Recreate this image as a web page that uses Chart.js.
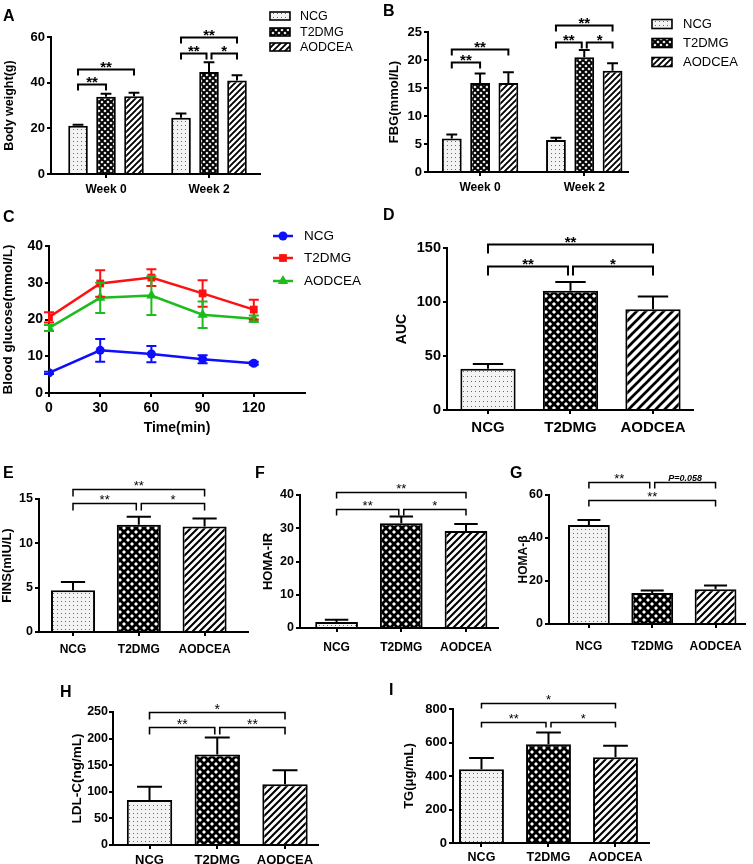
<!DOCTYPE html>
<html>
<head>
<meta charset="utf-8">
<title>Figure</title>
<script src="https://cdn.jsdelivr.net/npm/chart.js@4.4.1/dist/chart.umd.min.js"></script>
<style>
  html, body { margin:0; padding:0; background:#fff; }
  #fig { position:relative; width:753px; height:864px; overflow:hidden; background:#fff; }
  #fig canvas { position:absolute; }
</style>
</head>
<body>
<div id="fig">
  <canvas id="pA" width="370" height="200" style="left:0px;top:0px"></canvas>
  <canvas id="pB" width="383" height="200" style="left:370px;top:0px"></canvas>
  <canvas id="pC" width="370" height="250" style="left:0px;top:200px"></canvas>
  <canvas id="pD" width="383" height="255" style="left:370px;top:200px"></canvas>
  <canvas id="pE" width="250" height="200" style="left:0px;top:460px"></canvas>
  <canvas id="pF" width="250" height="200" style="left:250px;top:460px"></canvas>
  <canvas id="pG" width="253" height="200" style="left:500px;top:460px"></canvas>
  <canvas id="pH" width="376" height="204" style="left:0px;top:660px"></canvas>
  <canvas id="pI" width="377" height="204" style="left:376px;top:660px"></canvas>
</div>
<script>
// ================= DATA =================
const groupLabels = ['NCG', 'T2DMG', 'AODCEA'];
const weekLabels = ['Week 0', 'Week 2'];
const timeMin = [0, 30, 60, 90, 120];

// A: body weight (g)
const bwNCG = [21.1, 24.6],    bwNCGsd = [0.5, 1.9];
const bwT2DMG = [33.8, 44.7],  bwT2DMGsd = [1.4, 4.2];
const bwAODCEA = [34.1, 41.0], bwAODCEAsd = [1.5, 2.2];
const bwTicks = [0, 20, 40, 60];

// B: FBG (mmol/L)
const fbgNCG = [6.0, 5.7],     fbgNCGsd = [0.7, 0.4];
const fbgT2DMG = [15.9, 20.5], fbgT2DMGsd = [1.7, 1.3];
const fbgAODCEA = [15.9, 18.1],fbgAODCEAsd = [1.9, 1.3];
const fbgTicks = [0, 5, 10, 15, 20, 25];

// C: OGTT blood glucose (mmol/L)
const ogttNCG = [5.5, 11.6, 10.6, 9.2, 8.1],     ogttNCGsd = [0.3, 3.1, 2.2, 1.1, 0.4];
const ogttT2DMG = [20.6, 29.8, 31.4, 27.1, 22.7], ogttT2DMGsd = [1.4, 3.6, 2.3, 3.6, 2.7];
const ogttAODCEA = [17.7, 25.9, 26.5, 21.3, 20.2],ogttAODCEAsd = [0.8, 4.1, 5.3, 3.6, 0.9];
const ogttTicks = [0, 10, 20, 30, 40];

// D-I: single-value panels (NCG, T2DMG, AODCEA)
const aucMean = [38.2, 110.4, 93.4],  aucSd = [4.5, 8.1, 11.8];   const aucTicks = [0, 50, 100, 150];
const finsMean = [4.7, 12.1, 11.9],   finsSd = [0.95, 0.9, 0.9];  const finsTicks = [0, 5, 10, 15];
const homaIRMean = [1.8, 31.5, 29.2], homaIRSd = [0.7, 2.0, 2.1]; const homaIRTicks = [0, 10, 20, 30, 40];
const homaBMean = [46.1, 14.4, 16.2], homaBSd = [2.3, 1.2, 1.7];  const homaBTicks = [0, 20, 40, 60];
const ldlMean = [84.4, 170, 114.4],   ldlSd = [25, 32, 26];       const ldlTicks = [0, 50, 100, 150, 200, 250];
const tgMean = [440, 590, 512],       tgSd = [68, 70, 68];        const tgTicks = [0, 200, 400, 600, 800];

// significance brackets: [from, to, y-level, label]
const bwSig   = [[[0,0],[1,0],39.5,'**'], [[0,0],[2,0],46.0,'**'], [[0,1],[2,1],59.8,'**'], [[0,1],[1,1],53.0,'**'], [[1,1],[2,1],53.0,'*']];
const fbgSig  = [[[0,0],[1,0],19.6,'**'], [[0,0],[2,0],22.0,'**'], [[0,1],[2,1],26.2,'**'], [[0,1],[1,1],23.2,'**'], [[1,1],[2,1],23.2,'*']];
const aucSig  = [[0,2,153.7,'**'], [0,1,133.3,'**'], [1,2,133.3,'*']];
const finsSig = [[0,2,16.1,'**'], [0,1,14.5,'**'], [1,2,14.5,'*']];
const homaIRSig = [[0,2,40.8,'**'], [0,1,35.8,'**'], [1,2,35.8,'*']];
const homaBSig  = [[0,1,66.0,'**'], [1,2,66.0,'P=0.058'], [0,2,57.7,'**']];
const ldlSig  = [[0,2,250,'*'], [0,1,222,'**'], [1,2,222,'**']];
const tgSig   = [[0,2,835,'*'], [0,1,723,'**'], [1,2,723,'*']];

// ================= STYLE =================
const FONT = "'Liberation Sans', Arial, Helvetica, sans-serif";
Chart.defaults.font.family = FONT;
Chart.defaults.color = '#000';
Chart.defaults.animation = false;

function tile(w, h, paint) {
  const c = document.createElement('canvas'); c.width = w; c.height = h;
  const g = c.getContext('2d'); paint(g, w, h);
  return g.createPattern(c, 'repeat');
}
function dotsPat(dx, dy) {
  return tile(dx, dy, (g, w, h) => { g.fillStyle = '#f3f3f3'; g.fillRect(0, 0, w, h); g.fillStyle = '#6a6a6a'; g.fillRect(1, 1, 1, 1); });
}
function crossPat(p, r) {
  return tile(p, p, (g, w, h) => {
    g.fillStyle = '#000'; g.fillRect(0, 0, w, h); g.fillStyle = '#fff';
    [[w/2, h/2], [0, 0], [w, 0], [0, h], [w, h]].forEach(([cx, cy]) => {
      g.beginPath(); g.moveTo(cx, cy - r); g.lineTo(cx + r, cy); g.lineTo(cx, cy + r); g.lineTo(cx - r, cy); g.closePath(); g.fill();
    });
  });
}
function stripePat(p, lw) {
  return tile(p, p, (g, w, h) => {
    g.fillStyle = '#fff'; g.fillRect(0, 0, w, h); g.strokeStyle = '#000'; g.lineWidth = lw;
    g.beginPath();
    g.moveTo(-1, p + 1); g.lineTo(p + 1, -1);
    g.moveTo(-p/2, p/2); g.lineTo(p/2, -p/2);
    g.moveTo(p/2, 3*p/2); g.lineTo(3*p/2, p/2);
    g.stroke();
  });
}
const patSmall = [dotsPat(4, 4), crossPat(6, 1.6), stripePat(6, 1.9)];
const patMid   = [dotsPat(4, 4), crossPat(8, 2.0), stripePat(7, 2.1)];
const patBig   = [dotsPat(4, 5), crossPat(8, 2.1), stripePat(9, 2.7)];

const C_NCG = '#0d0dff', C_T2 = '#ff1010', C_AOD = '#1dbb1d';

function drawMarker(ctx, style, x, y, r, color) {
  ctx.fillStyle = color; ctx.beginPath();
  if (style === 'circle') { ctx.arc(x, y, r, 0, Math.PI * 2); }
  else if (style === 'rect') { const s = r * Math.SQRT1_2; ctx.rect(x - s, y - s, 2 * s, 2 * s); }
  else { ctx.moveTo(x, y - r); ctx.lineTo(x + r * 0.866, y + r * 0.5); ctx.lineTo(x - r * 0.866, y + r * 0.5); ctx.closePath(); }
  ctx.fill();
}

const decor = {
  id: 'decor',
  afterDatasetsDraw(chart, args, o) {
    const ctx = chart.ctx, ys = chart.scales.y;
    ctx.save();
    chart.data.datasets.forEach((ds, di) => {
      if (!ds.sd) return;
      const meta = chart.getDatasetMeta(di);
      meta.data.forEach((el, i) => {
        const v = meta.controller.getParsed(i).y, s = ds.sd[i];
        const yt = ys.getPixelForValue(v + s);
        ctx.strokeStyle = ds.errColor || '#000';
        ctx.lineWidth = o.errWidth || 2;
        ctx.beginPath();
        if (chart.config.type === 'bar') {
          const cw = el.width * (o.capRatio || 0.55);
          ctx.moveTo(el.x, el.y); ctx.lineTo(el.x, yt);
          ctx.moveTo(el.x - cw / 2, yt); ctx.lineTo(el.x + cw / 2, yt);
        } else {
          const yb = ys.getPixelForValue(v - s), cw = o.cap || 10;
          ctx.moveTo(el.x, yb); ctx.lineTo(el.x, yt);
          ctx.moveTo(el.x - cw / 2, yt); ctx.lineTo(el.x + cw / 2, yt);
          ctx.moveTo(el.x - cw / 2, yb); ctx.lineTo(el.x + cw / 2, yb);
        }
        ctx.stroke();
      });
    });
    ctx.restore();
  },
  afterDraw(chart, args, o) {
    const ctx = chart.ctx;
    ctx.save();
    ctx.fillStyle = '#000'; ctx.strokeStyle = '#000';
    if (o.letter) {
      ctx.font = 'bold 16px ' + FONT; ctx.textAlign = 'left'; ctx.textBaseline = 'alphabetic';
      ctx.fillText(o.letter[0], o.letter[1], o.letter[2]);
    }
    if (o.brackets) {
      const ys = chart.scales.y;
      const key = r => JSON.stringify(r);
      const bx = ref => { const r = Array.isArray(ref) ? ref : [0, ref]; return chart.getDatasetMeta(r[0]).data[r[1]].x; };
      const list = o.brackets;
      list.forEach(b => {
        const [from, to, lvl, text] = b;
        const g = o.gap || 2.5;
        let x1 = bx(from), x2 = bx(to);
        // split brackets that meet at a shared middle bar on the same level
        if (list.some(c => c !== b && c[2] === lvl && key(c[1]) === key(from))) x1 += g;
        if (list.some(c => c !== b && c[2] === lvl && key(c[0]) === key(to))) x2 -= g;
        const y = Math.round(ys.getPixelForValue(lvl)) + 0.5;
        const d = o.drop || 6;
        ctx.lineWidth = o.bracketWidth || 1.5;
        ctx.beginPath(); ctx.moveTo(x1, y + d); ctx.lineTo(x1, y); ctx.lineTo(x2, y); ctx.lineTo(x2, y + d); ctx.stroke();
        ctx.textAlign = 'center'; ctx.textBaseline = 'alphabetic';
        if (text.charAt(0) !== '*') {
          ctx.font = 'italic bold 9px ' + FONT;
          ctx.fillText(text, (x1 + x2) / 2, y - 2);
        } else {
          const fs = o.starSize || 13;
          ctx.font = (o.starWeight || 'bold') + ' ' + fs + 'px ' + FONT;
          ctx.fillText(text, (x1 + x2) / 2, y - (o.starGap || 6.5) + 0.57 * fs);
        }
      });
    }
    if (o.legend) {
      const L = o.legend;
      chart.data.datasets.forEach((ds, i) => {
        const cy = L.rows[i];
        if (L.kind === 'line') {
          ctx.strokeStyle = ds.borderColor; ctx.lineWidth = 2.5;
          ctx.beginPath(); ctx.moveTo(L.x1, cy); ctx.lineTo(L.x2, cy); ctx.stroke();
          drawMarker(ctx, ds.pointStyle, (L.x1 + L.x2) / 2, cy, ds.pointRadius, ds.borderColor);
        } else {
          ctx.fillStyle = ds.backgroundColor;
          ctx.fillRect(L.boxX, cy - L.boxH / 2, L.boxW, L.boxH);
          ctx.strokeStyle = '#000'; ctx.lineWidth = 1.6;
          ctx.strokeRect(L.boxX, cy - L.boxH / 2, L.boxW, L.boxH);
        }
        ctx.fillStyle = '#000'; ctx.font = L.size + 'px ' + FONT;
        ctx.textAlign = 'left'; ctx.textBaseline = 'middle';
        ctx.fillText(ds.label, L.textX, cy + 0.5);
      });
    }
    ctx.restore();
  }
};

const gridStyle = { drawOnChartArea: false, drawTicks: true, tickLength: 4, tickWidth: 2, tickColor: '#000', lineWidth: 2, color: '#000', offset: false };
const borderStyle = { display: true, color: '#000', width: 2 };

function yAxis(o) {
  return {
    type: 'linear', min: o.ticks[0], max: o.ticks[o.ticks.length - 1],
    afterFit: s => { s.width = o.width; },
    afterBuildTicks: s => { s.ticks = o.ticks.map(v => ({ value: v })); },
    ticks: { font: { size: o.tick, weight: 'bold' }, color: '#000', padding: o.tickPad ?? 2 },
    grid: gridStyle, border: borderStyle,
    title: { display: true, text: o.title, color: '#000', font: { size: o.titleSize, weight: 'bold' }, padding: { top: o.titlePad, bottom: 0 } }
  };
}
function xAxis(o) {
  const ax = {
    type: 'linear', min: o.min, max: o.max, offset: false,
    afterFit: s => { s.height = o.height; },
    afterBuildTicks: s => { s.ticks = o.values.map(v => ({ value: v })); },
    ticks: { callback: (v, i) => o.labels[i], font: { size: o.tick, weight: 'bold' }, color: '#000', padding: o.pad, maxRotation: 0, autoSkip: false },
    grid: gridStyle, border: borderStyle
  };
  if (o.title) ax.title = { display: true, text: o.title, color: '#000', font: { size: o.titleSize, weight: 'bold' }, padding: { top: 0, bottom: o.titlePad } };
  return ax;
}

function groupedBar(id, p) {
  const sets = [[p.ncg, p.ncgSd], [p.t2, p.t2Sd], [p.aod, p.aodSd]];
  return new Chart(document.getElementById(id), {
    type: 'bar',
    data: { datasets: sets.map((s, k) => ({
      label: groupLabels[k],
      data: weekLabels.map((w, i) => ({ x: i, y: s[0][i] })),
      sd: s[1],
      backgroundColor: patSmall[k], borderColor: '#000', borderWidth: 2,
      categoryPercentage: p.catPct, barPercentage: p.barPct
    })) },
    options: {
      responsive: false, animation: false,
      layout: { padding: p.padding },
      plugins: { legend: { display: false }, tooltip: { enabled: false }, decor: p.decor },
      scales: {
        x: xAxis({ min: p.xmin, max: p.xmax, values: weekLabels.map((w, i) => i), labels: weekLabels, height: p.xh, tick: p.catSize, pad: p.catPad }),
        y: yAxis({ ticks: p.ticks, width: p.yw, tick: p.tickSize, title: p.title, titleSize: p.titleSize, titlePad: p.titlePad })
      }
    },
    plugins: [decor]
  });
}

function simpleBar(id, p) {
  return new Chart(document.getElementById(id), {
    type: 'bar',
    data: { datasets: [{
      label: p.title,
      data: groupLabels.map((g, i) => ({ x: i, y: p.mean[i] })),
      sd: p.sd,
      backgroundColor: p.pats, borderColor: '#000', borderWidth: 2,
      categoryPercentage: 1, barPercentage: p.barPct
    }] },
    options: {
      responsive: false, animation: false,
      layout: { padding: p.padding },
      plugins: { legend: { display: false }, tooltip: { enabled: false }, decor: p.decor },
      scales: {
        x: xAxis({ min: p.xmin, max: p.xmax, values: groupLabels.map((g, i) => i), labels: groupLabels, height: p.xh, tick: p.catSize, pad: p.catPad }),
        y: yAxis({ ticks: p.ticks, width: p.yw, tick: p.tickSize, tickPad: p.tickPad, title: p.title, titleSize: p.titleSize, titlePad: p.titlePad })
      }
    },
    plugins: [decor]
  });
}

// ---- A ----
groupedBar('pA', {
  ncg: bwNCG, ncgSd: bwNCGsd, t2: bwT2DMG, t2Sd: bwT2DMGsd, aod: bwAODCEA, aodSd: bwAODCEAsd,
  ticks: bwTicks, title: 'Body weight(g)', titleSize: 12.5, titlePad: 2.5, tickSize: 13, yw: 51,
  xmin: -0.534, xmax: 1.495, xh: 26, catSize: 12, catPad: 4, catPct: 0.815, barPct: 0.70,
  padding: { left: 0, top: 37, right: 110, bottom: 0 },
  decor: { letter: ['A', 3, 21], brackets: bwSig, drop: 6, bracketWidth: 2, starSize: 15, capRatio: 0.55,
    legend: { kind: 'box', boxX: 270, boxW: 20, boxH: 8, textX: 300, size: 12.5, rows: [16, 32, 47] } }
});

// ---- B ----
groupedBar('pB', {
  ncg: fbgNCG, ncgSd: fbgNCGsd, t2: fbgT2DMG, t2Sd: fbgT2DMGsd, aod: fbgAODCEA, aodSd: fbgAODCEAsd,
  ticks: fbgTicks, title: 'FBG(mmol/L)', titleSize: 13, titlePad: 17, tickSize: 13, yw: 58,
  xmin: -0.5, xmax: 1.42, xh: 28, catSize: 12, catPad: 4, catPct: 0.815, barPct: 0.70,
  padding: { left: 0, top: 32, right: 125, bottom: 0 },
  decor: { letter: ['B', 13, 16], brackets: fbgSig, drop: 6, bracketWidth: 2, starSize: 15, capRatio: 0.55,
    legend: { kind: 'box', boxX: 282, boxW: 20, boxH: 9, textX: 313, size: 13, rows: [24, 43, 62] } }
});

// ---- C ----
new Chart(document.getElementById('pC'), {
  type: 'line',
  data: { datasets: [
    { label: 'NCG', data: timeMin.map((t, i) => ({ x: t, y: ogttNCG[i] })), sd: ogttNCGsd, errColor: C_NCG,
      borderColor: C_NCG, backgroundColor: C_NCG, pointStyle: 'circle', pointRadius: 4.5 },
    { label: 'T2DMG', data: timeMin.map((t, i) => ({ x: t, y: ogttT2DMG[i] })), sd: ogttT2DMGsd, errColor: C_T2,
      borderColor: C_T2, backgroundColor: C_T2, pointStyle: 'rect', pointRadius: 5.5 },
    { label: 'AODCEA', data: timeMin.map((t, i) => ({ x: t, y: ogttAODCEA[i] })), sd: ogttAODCEAsd, errColor: C_AOD,
      borderColor: C_AOD, backgroundColor: C_AOD, pointStyle: 'triangle', pointRadius: 6 }
  ] },
  options: {
    responsive: false, animation: false,
    layout: { padding: { left: 0, top: 46, right: 65, bottom: 0 } },
    elements: { line: { borderWidth: 2.5, tension: 0, fill: false }, point: { borderWidth: 0, hoverRadius: 0 } },
    plugins: { legend: { display: false }, tooltip: { enabled: false },
      decor: { letter: ['C', 3, 22], errWidth: 2, cap: 10,
        legend: { kind: 'line', x1: 273, x2: 293, textX: 304, size: 13.5, rows: [36, 58, 81] } } },
    scales: {
      x: xAxis({ min: 0, max: 150, values: timeMin, labels: timeMin.map(String), height: 57, tick: 14, pad: 3,
                 title: 'Time(min)', titleSize: 14, titlePad: 13.6 }),
      y: yAxis({ ticks: ogttTicks, width: 49, tick: 14, title: 'Blood glucose(mmol/L)', titleSize: 13.5, titlePad: 0 })
    }
  },
  plugins: [decor]
});

// ---- D ----
simpleBar('pD', {
  mean: aucMean, sd: aucSd, pats: patBig, ticks: aucTicks, title: 'AUC', titleSize: 14, titlePad: 23.6, tickSize: 14.5, yw: 77,
  xmin: -0.497, xmax: 2.485, xh: 45, catSize: 15, catPad: 5, barPct: 0.67,
  padding: { left: 0, top: 48, right: 60, bottom: 0 },
  decor: { letter: ['D', 13, 20], brackets: aucSig, drop: 9, bracketWidth: 2, starSize: 15, capRatio: 0.55 }
});

// ---- E ----
simpleBar('pE', {
  mean: finsMean, sd: finsSd, pats: patMid, ticks: finsTicks, title: 'FINS(mIU/L)', titleSize: 13, titlePad: 0, tickSize: 12.5, yw: 39,
  xmin: -0.517, xmax: 2.66, xh: 28, catSize: 12, catPad: 6, barPct: 0.67,
  padding: { left: 0, top: 39, right: 2, bottom: 0 },
  decor: { letter: ['E', 3, 18], brackets: finsSig, drop: 7, bracketWidth: 1.5, starSize: 13, starWeight: 'normal', capRatio: 0.55 }
});

// ---- F ----
simpleBar('pF', {
  mean: homaIRMean, sd: homaIRSd, pats: patMid, ticks: homaIRTicks, title: 'HOMA-IR', titleSize: 13, titlePad: 10.2, tickSize: 12.5, yw: 50,
  xmin: -0.565, xmax: 2.49, xh: 32, catSize: 12, catPad: 8, barPct: 0.66,
  padding: { left: 0, top: 35, right: 0, bottom: 0 },
  decor: { letter: ['F', 5, 18], brackets: homaIRSig, drop: 6, bracketWidth: 1.5, starSize: 13, starWeight: 'normal', capRatio: 0.55 }
});

// ---- G ----
simpleBar('pG', {
  mean: homaBMean, sd: homaBSd, pats: patMid, ticks: homaBTicks, title: 'HOMA-β', titleSize: 12, titlePad: 16.8, tickSize: 12.5, yw: 49,
  xmin: -0.63, xmax: 2.46, xh: 36, catSize: 12, catPad: 11, barPct: 0.66,
  padding: { left: 0, top: 35, right: 3, bottom: 0 },
  decor: { letter: ['G', 10, 18], brackets: homaBSig, drop: 6, bracketWidth: 1.5, starSize: 13, starWeight: 'normal', capRatio: 0.55 }
});

// ---- H ----
simpleBar('pH', {
  mean: ldlMean, sd: ldlSd, pats: patMid, ticks: ldlTicks, title: 'LDL-C(ng/mL)', titleSize: 13.5, titlePad: 69, tickSize: 12.5, tickPad: 1, yw: 113,
  xmin: -0.539, xmax: 2.487, xh: 19, catSize: 13, catPad: 4, barPct: 0.67,
  padding: { left: 0, top: 52, right: 58, bottom: 0 },
  decor: { letter: ['H', 60, 37], brackets: ldlSig, drop: 7, bracketWidth: 1.6, starSize: 14, starWeight: 'normal', capRatio: 0.55 }
});

// ---- I ----
simpleBar('pI', {
  mean: tgMean, sd: tgSd, pats: patMid, ticks: tgTicks, title: 'TG(μg/mL)', titleSize: 13, titlePad: 25.2, tickSize: 13, yw: 77,
  xmin: -0.425, xmax: 2.5, xh: 21, catSize: 12.5, catPad: 3, barPct: 0.67,
  padding: { left: 0, top: 49, right: 104, bottom: 0 },
  decor: { letter: ['I', 13, 35], brackets: tgSig, drop: 5, bracketWidth: 1.5, starSize: 13, starWeight: 'normal', capRatio: 0.55 }
});
</script>
</body>
</html>
